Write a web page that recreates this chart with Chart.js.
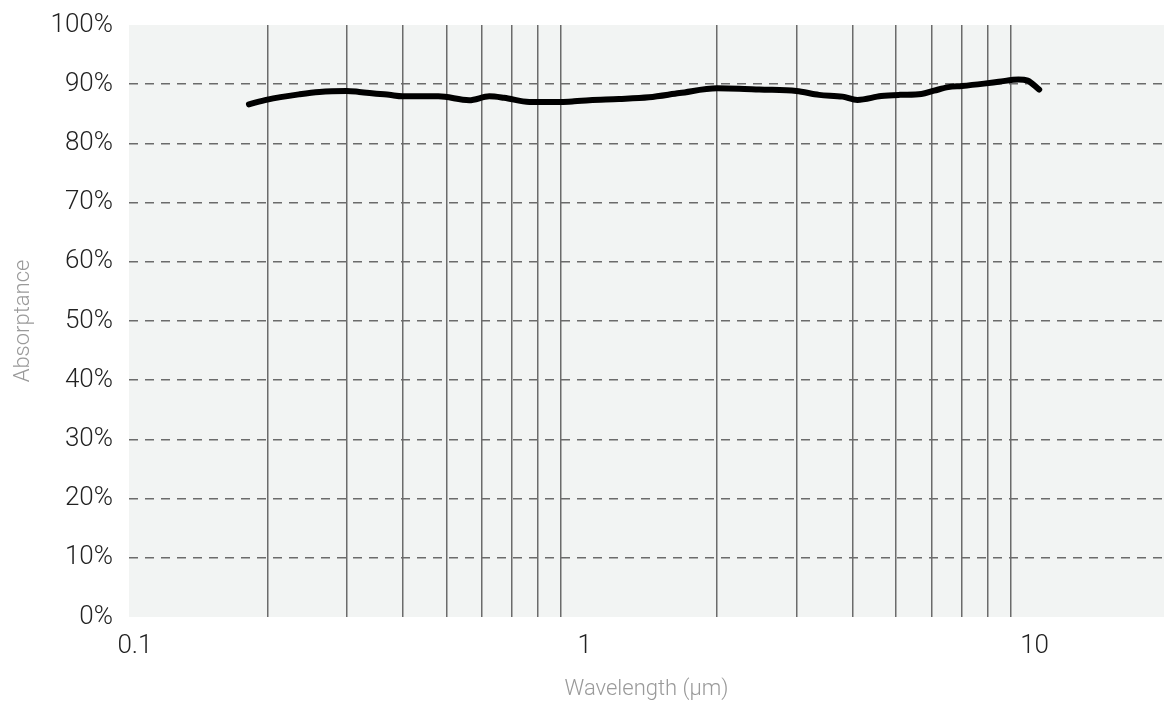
<!DOCTYPE html>
<html>
<head>
<meta charset="utf-8">
<script src="https://cdn.jsdelivr.net/npm/chart.js@4/dist/chart.umd.min.js"></script>
<style>
    html, body { margin: 0; padding: 0; background: #fff; }
    #wrap { position: relative; width: 1165px; height: 708px; }
</style>
</head>
<body>
<div id="wrap"><canvas id="absorb-chart"></canvas></div>
<script>
// wavelength in µm and absorptance in %
const wavelength = [0.182, 0.2, 0.236, 0.261, 0.3, 0.32, 0.373, 0.4, 0.48, 0.562, 0.623, 0.672, 0.765, 0.826, 0.9, 0.962, 1.04, 1.21, 1.41, 1.65, 2.0, 2.24, 2.48, 3.0, 3.37, 3.8, 4.1, 4.63, 5.1, 5.69, 6.07, 6.53, 7.0, 7.84, 8.45, 9.35, 9.8, 10.4];
const absorptance = [86.6, 87.4, 88.3, 88.7, 88.85, 88.7, 88.2, 87.95, 87.95, 87.3, 87.95, 87.7, 87.0, 87.0, 87.0, 87.1, 87.3, 87.5, 87.8, 88.5, 89.3, 89.25, 89.1, 88.85, 88.2, 87.9, 87.35, 88.0, 88.2, 88.35, 88.9, 89.5, 89.7, 90.1, 90.4, 90.8, 90.6, 89.1];
const xTicks = [0.1, 0.2, 0.3, 0.4, 0.5, 0.6, 0.7, 0.8, 0.9, 1, 2, 3, 4, 5, 6, 7, 8, 9, 10];
const xLabels = [0.1, 1, 10];
const yTicks = [0, 10, 20, 30, 40, 50, 60, 70, 80, 90, 100];

const FONT = "Roboto, 'Noto Sans', sans-serif";

const plotBg = {
    id: 'plotBg',
    beforeDraw(chart) {
        const { ctx, chartArea: a } = chart;
        ctx.save();
        ctx.fillStyle = '#f2f4f3';
        ctx.fillRect(a.left, a.top, a.right - a.left, a.bottom - a.top);
        ctx.restore();
    }
};

const isLabel = v => xLabels.some(t => Math.abs(t - v) < 1e-9);

document.addEventListener('DOMContentLoaded', () => {
    const ctx = document.getElementById('absorb-chart');
    new Chart(ctx, {
        type: 'line',
        data: {
            datasets: [{
                data: wavelength.map((w, i) => ({ x: w, y: absorptance[i] })),
                borderColor: '#000',
                borderWidth: 6,
                borderCapStyle: 'round',
                borderJoinStyle: 'round',
                pointRadius: 0,
                cubicInterpolationMode: 'monotone',
                fill: false
            }]
        },
        options: {
            responsive: true,
            maintainAspectRatio: false,
            animation: false,
            layout: { padding: { top: 25, right: 1, left: 0, bottom: 0 } },
            plugins: { legend: { display: false }, tooltip: { enabled: false } },
            scales: {
                x: {
                    type: 'logarithmic',
                    min: 0.0985,
                    max: 19.7,
                    border: { display: false },
                    afterBuildTicks: s => { s.ticks = xTicks.map(v => ({ value: v })); },
                    grid: {
                        drawTicks: false,
                        lineWidth: 1.5,
                        color: c => (c.tick && isLabel(c.tick.value)) ? 'rgba(0,0,0,0)' : '#6b6b6b'
                    },
                    ticks: {
                        autoSkip: false,
                        maxRotation: 0,
                        padding: 14,
                        labelOffset: 3,
                        color: '#222',
                        font: { family: FONT, size: 26, weight: 300 },
                        callback: v => isLabel(v) ? String(v) : ''
                    },
                    title: {
                        display: true,
                        text: 'Wavelength (µm)',
                        color: '#9a9a9a',
                        font: { family: FONT, size: 22, weight: 300 },
                        padding: { top: 0, bottom: 5 }
                    },
                    afterFit: s => { s.height = 91; s.paddingLeft = 0; s.paddingRight = 0; }
                },
                y: {
                    min: 0,
                    max: 100,
                    border: { display: false, dash: [9, 7] },
                    afterBuildTicks: s => { s.ticks = yTicks.map(v => ({ value: v })); },
                    grid: {
                        drawTicks: false,
                        lineWidth: 1.5,
                        color: c => (c.tick && (c.tick.value === 0 || c.tick.value === 100)) ? 'rgba(0,0,0,0)' : '#6b6b6b'
                    },
                    ticks: {
                        padding: 16,
                        color: '#222',
                        font: { family: FONT, size: 26, weight: 300 },
                        callback: v => v + '%'
                    },
                    title: {
                        display: true,
                        text: 'Absorptance',
                        color: '#9a9a9a',
                        font: { family: FONT, size: 22, weight: 300 },
                        padding: { top: 10, bottom: 0 }
                    },
                    afterFit: s => { s.width = 129; s.paddingTop = 0; s.paddingBottom = 0; }
                }
            }
        },
        plugins: [plotBg]
    });
});
</script>
</body>
</html>
